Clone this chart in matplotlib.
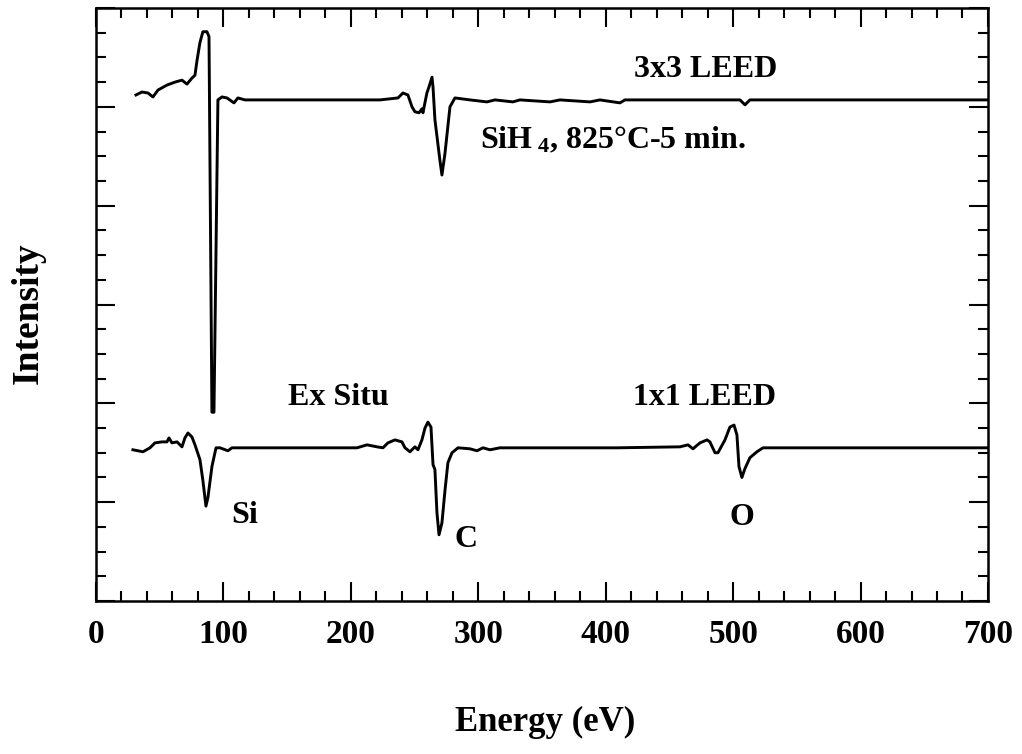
from matplotlib import pyplot as plt
from matplotlib.ticker import MultipleLocator

# Upper spectrum: SiH4 treated, 3x3 LEED (energy in eV, intensity in arb. units)
energy_3x3 = [31.4, 36.1, 40.8, 44.7, 48.7, 55.7, 62.0, 67.5, 71.4, 75.3, 77.7,
              79.3, 81.6, 83.9, 87.1, 88.7, 91.0, 92.6, 95.7, 98.9, 102.8, 108.3,
              111.4, 116.9, 222.9, 237.0, 240.9, 244.8, 248.0, 250.3, 253.5, 255.8,
              256.6, 259.7, 261.3, 263.7, 264.5, 266.0, 269.9, 271.5, 273.9, 277.8,
              281.7, 293.5, 306.8, 313.1, 327.2, 332.7, 356.3, 364.1, 387.7, 395.5,
              411.2, 415.1, 505.4, 509.3, 513.2, 700.0]
intensity_3x3 = [5.12, 5.15, 5.14, 5.10, 5.17, 5.22, 5.25, 5.27, 5.23, 5.29, 5.32,
                 5.47, 5.65, 5.76, 5.76, 5.71, 1.91, 1.91, 5.07, 5.10, 5.09, 5.04,
                 5.09, 5.07, 5.07, 5.09, 5.14, 5.12, 5.00, 4.95, 4.94, 4.98,
                 4.94, 5.14, 5.20, 5.30, 5.20, 4.87, 4.46, 4.31, 4.53, 5.00,
                 5.09, 5.07, 5.05, 5.07, 5.05, 5.07, 5.05, 5.07, 5.05, 5.07,
                 5.04, 5.07, 5.07, 5.02, 5.07, 5.07]

# Lower spectrum: ex situ, 1x1 LEED
energy_1x1 = [29.0, 36.9, 42.4, 46.3, 51.8, 55.7, 57.3, 59.6, 63.6, 67.5, 69.8,
              72.2, 75.3, 77.7, 81.6, 83.9, 86.3, 87.9, 91.0, 94.2, 97.3, 103.6,
              106.7, 204.8, 212.7, 220.5, 225.2, 229.1, 234.6, 240.1, 242.5, 246.4,
              250.3, 252.7, 255.8, 258.2, 260.5, 262.9, 264.5, 266.0, 267.6, 269.2,
              271.5, 273.9, 276.2, 279.4, 284.1, 293.5, 299.0, 303.7, 309.2, 317.0,
              395.5, 408.9, 458.3, 464.6, 468.5, 474.0, 479.5, 481.8, 485.8, 488.1,
              493.6, 497.5, 500.7, 503.0, 504.6, 506.9, 509.3, 513.2, 518.7, 523.4,
              700.0]
intensity_1x1 = [1.53, 1.51, 1.55, 1.60, 1.61, 1.61, 1.65, 1.60, 1.61, 1.56, 1.65,
                 1.70, 1.66, 1.58, 1.43, 1.22, 0.96, 1.05, 1.36, 1.55, 1.55, 1.52,
                 1.55, 1.55, 1.58, 1.56, 1.55, 1.60, 1.63, 1.61, 1.55, 1.51,
                 1.56, 1.53, 1.63, 1.75, 1.81, 1.76, 1.38, 1.33, 0.89, 0.67,
                 0.79, 1.12, 1.40, 1.50, 1.55, 1.54, 1.52, 1.55, 1.53, 1.55,
                 1.55, 1.55, 1.56, 1.58, 1.54, 1.60, 1.63, 1.61, 1.50, 1.50,
                 1.63, 1.76, 1.78, 1.68, 1.36, 1.25, 1.34, 1.45, 1.51, 1.55,
                 1.55]

# Annotations (text, energy, intensity, horizontal alignment)
annotations = [
    ("3x3 LEED", 478.7, 5.30, "center"),
    ("SiH$\\,_4$, 825\u00b0C-5 min.", 301.3, 4.58, "left"),
    ("Ex Situ", 189.9, 1.98, "center"),
    ("1x1 LEED", 477.9, 1.98, "center"),
    ("Si", 116.9, 0.79, "center"),
    ("C", 290.4, 0.55, "center"),
    ("O", 506.9, 0.77, "center"),
]


def main():
    plt.rcParams['font.family'] = ['Liberation Serif', 'DejaVu Serif']
    plt.rcParams['font.weight'] = 'bold'
    plt.rcParams['mathtext.fontset'] = 'custom'
    plt.rcParams['mathtext.rm'] = 'Liberation Serif:bold'
    plt.rcParams['mathtext.default'] = 'rm'

    fig = plt.figure(figsize=(10.22, 7.54), dpi=100)
    ax = fig.add_axes([0.0939, 0.2029, 0.8728, 0.7865])

    ax.plot(energy_3x3, intensity_3x3, color="black", linewidth=2.1)
    ax.plot(energy_1x1, intensity_1x1, color="black", linewidth=2.1)

    for text, x, y, ha in annotations:
        ax.text(x, y, text, ha=ha, va="baseline", fontsize=23, fontweight="bold")

    ax.set_xlim(0, 700)
    ax.set_ylim(0, 6)

    # Ticks pointing inward on all four sides, no y labels
    ax.xaxis.set_major_locator(MultipleLocator(100))
    ax.xaxis.set_minor_locator(MultipleLocator(20))
    ax.yaxis.set_major_locator(MultipleLocator(1))
    ax.yaxis.set_minor_locator(MultipleLocator(0.25))
    ax.tick_params(which="both", direction="in", top=True, right=True, width=1.5)
    ax.tick_params(which="major", length=14)
    ax.tick_params(which="minor", length=7)
    ax.tick_params(axis="x", which="major", labelsize=24, pad=13)
    ax.tick_params(axis="y", labelleft=False)
    for label in ax.get_xticklabels():
        label.set_fontweight("bold")
    for spine in ax.spines.values():
        spine.set_linewidth(1.8)

    fig.text(545 / 1022, 1 - 722 / 754, "Energy (eV)", ha="center", va="center",
             fontsize=25, fontweight="bold")
    fig.text(28 / 1022, 1 - 313 / 754, "Intensity", ha="center", va="center",
             rotation=90, fontsize=27, fontweight="bold")

    fig.savefig("out.png", dpi=100)


if __name__ == "__main__":
    main()
